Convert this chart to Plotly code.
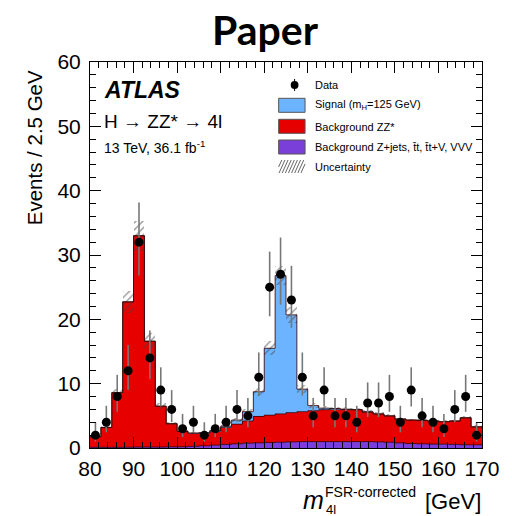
import plotly.graph_objects as go
import math

# ---------------- data ----------------
bin_edges = [80 + 2.5 * i for i in range(37)]
bin_centers = [80 + 2.5 * i + 1.25 for i in range(36)]

data_counts = [2, 4, 8, 12, 32, 14, 9, 6, 3, 4,
               2, 3, 4, 6, 5, 11, 25, 27, 23, 11,
               5, 9, 5, 5, 4, 7, 7, 8, 4, 9,
               5, 4, 3, 6, 8, 2]

bkg_other = [0.1, 0.1, 0.1, 0.12, 0.15, 0.15, 0.15, 0.18, 0.2, 0.25,
             0.35, 0.45, 0.55, 0.65, 0.75, 0.8, 0.85, 0.9, 0.95, 1.0,
             1.0, 1.0, 1.0, 1.0, 1.0, 1.0, 0.95, 0.9, 0.8, 0.7,
             0.65, 0.6, 0.6, 0.55, 0.5, 0.5]

bkg_zz = [1.65, 3.1, 8.5, 22.6, 32.85, 16.45, 6.35, 3.6, 2.4, 2.05,
          1.95, 2.15, 2.65, 3.05, 3.45, 4.1, 4.25, 4.4, 4.55, 4.65,
          4.8, 4.95, 5.05, 5.0, 4.95, 4.6, 4.35, 4.1, 3.7, 3.65,
          3.65, 3.6, 3.5, 3.65, 4.2, 2.8]

signal = [0, 0, 0, 0, 0, 0, 0, 0, 0, 0.02,
          0.05, 0.1, 0.2, 0.65, 1.45, 3.85, 10.4, 21.5, 15.2, 3.5,
          0.8, 0.25, 0.08, 0.03, 0.02, 0.01, 0, 0, 0, 0,
          0, 0, 0, 0, 0, 0]

uncertainty = [0.12, 0.2, 0.5, 1.7, 2.3, 1.3, 0.45, 0.25, 0.18, 0.15,
               0.15, 0.17, 0.2, 0.25, 0.35, 0.6, 1.1, 1.5, 1.2, 0.6,
               0.35, 0.3, 0.3, 0.3, 0.3, 0.28, 0.27, 0.25, 0.23, 0.22,
               0.22, 0.21, 0.21, 0.21, 0.24, 0.2]

x_ticks = [80, 90, 100, 110, 120, 130, 140, 150, 160, 170]
y_ticks = [0, 10, 20, 30, 40, 50, 60]

# ---------------- derived ----------------
cum_other = bkg_other
cum_zz = [a + b for a, b in zip(bkg_other, bkg_zz)]
cum_tot = [a + b for a, b in zip(cum_zz, signal)]
err_up = [math.sqrt(n + 0.25) + 0.5 for n in data_counts]
err_dn = [math.sqrt(n + 0.25) - 0.5 for n in data_counts]

C_SIG = "#6cb4ff"
C_ZZ = "#e60000"
C_OTH = "#7a3fd8"
FONT = "Liberation Sans, Arial, Helvetica, sans-serif"

W, H = 512, 516
L, R, T, B = 90, 491, 62, 448


def xp(x):
    return (x - L) / (R - L)


def yp(y):
    return (B - y) / (B - T)


fig = go.Figure()

fig.add_trace(go.Bar(x=bin_centers, y=bkg_other, base=[0] * 36, width=2.5,
                     marker=dict(color=C_OTH, line=dict(width=0)), showlegend=False))
fig.add_trace(go.Bar(x=bin_centers, y=bkg_zz, base=cum_other, width=2.5,
                     marker=dict(color=C_ZZ, line=dict(width=0)), showlegend=False))
fig.add_trace(go.Bar(x=bin_centers, y=signal, base=cum_zz, width=2.5,
                     marker=dict(color=C_SIG, line=dict(width=0)), showlegend=False))

# outlines of the stacked histograms
for cum in (cum_other, cum_zz, cum_tot):
    fig.add_trace(go.Scatter(x=bin_edges, y=cum + [cum[-1]], mode="lines",
                             line=dict(shape="hv", color="#3a0000", width=0.8),
                             hoverinfo="skip", showlegend=False))

# uncertainty hatch
fig.add_trace(go.Bar(x=bin_centers, y=[2 * u for u in uncertainty],
                     base=[t - u for t, u in zip(cum_tot, uncertainty)], width=2.5,
                     marker=dict(color="rgba(0,0,0,0)", line=dict(width=0),
                                 pattern=dict(shape="/", fgcolor="#444",
                                              bgcolor="rgba(0,0,0,0)",
                                              size=5, solidity=0.3)),
                     showlegend=False))

# data
fig.add_trace(go.Scatter(x=bin_centers, y=data_counts, mode="markers",
                         marker=dict(color="black", size=9),
                         error_y=dict(type="data", symmetric=False, array=err_up,
                                      arrayminus=err_dn, color="#777",
                                      thickness=1.6, width=0),
                         showlegend=False))

axis_common = dict(showline=True, linecolor="black", linewidth=1, mirror="ticks",
                   ticks="inside", ticklen=11, tickcolor="black", tickwidth=1,
                   showgrid=False, zeroline=False,
                   tickfont=dict(family=FONT, size=21, color="black"))

fig.update_layout(
    width=W, height=H,
    margin=dict(l=L, r=W - R, t=T, b=H - B),
    paper_bgcolor="white", plot_bgcolor="white",
    barmode="overlay", bargap=0,
    xaxis=dict(range=[80, 170], tickvals=x_ticks, ticktext=[str(v) for v in x_ticks],
               minor=dict(dtick=2, tick0=80, ticks="inside", ticklen=6,
                          tickcolor="black", showgrid=False),
               ticklabelstandoff=2, **axis_common),
    yaxis=dict(range=[0, 60], tickvals=y_ticks, ticktext=[str(v) for v in y_ticks],
               minor=dict(dtick=2, tick0=0, ticks="inside", ticklen=6,
                          tickcolor="black", showgrid=False),
               ticklabelstandoff=4, **axis_common),
)

ann = []


def text(x, y, s, size, xanchor="left", yanchor="middle", **kw):
    ann.append(dict(x=xp(x), y=yp(y), xref="paper", yref="paper", text=s,
                    showarrow=False, xanchor=xanchor, yanchor=yanchor,
                    font=dict(family=kw.pop("family", FONT), size=size,
                              color="black"), **kw))


# title
text(270, 30, "<b>Paper</b>", 41, xanchor="center", family="Lato, Carlito, sans-serif")
# y-axis title
text(33, 148, "Events / 2.5 GeV", 20.5, xanchor="center", textangle=-90)
# x-axis title
text(331, 500, "<i>m</i>", 25, xanchor="right")
text(328, 492, "FSR-corrected", 14)
text(329, 509, "4l", 13)
text(492, 501, "[GeV]", 22, xanchor="right")

# ATLAS labels
text(102, 90, "<b><i>ATLAS</i></b>", 23)
text(102, 121, "H \u2192 ZZ* \u2192 4l", 19)
text(102, 147, "13 TeV, 36.1 fb<sup>-1</sup>", 14)

# legend text
lx = 318
text(lx, 85, "Data", 11)
text(lx, 105, "Signal (m<sub>H</sub>=125 GeV)", 11)
text(lx, 126.5, "Background ZZ*", 11)
text(lx, 147.3, "Background Z+jets, t\u0304t, t\u0304t+V, VVV", 11)
text(lx, 167, "Uncertainty", 11)

fig.update_layout(annotations=ann)

shapes = []


def rect(x0, y0, x1, y1, fill, line="#555"):
    shapes.append(dict(type="rect", xref="paper", yref="paper",
                       x0=xp(x0), x1=xp(x1), y0=yp(y1), y1=yp(y0),
                       fillcolor=fill, line=dict(color=line, width=1)))


# data marker in legend
shapes.append(dict(type="line", xref="paper", yref="paper", x0=xp(299.3), x1=xp(299.3),
                   y0=yp(79), y1=yp(91), line=dict(color="black", width=1)))
shapes.append(dict(type="circle", xref="paper", yref="paper", x0=xp(295.3), x1=xp(303.3),
                   y0=yp(89), y1=yp(81), fillcolor="black", line=dict(color="black", width=0)))
rect(283, 98.3, 310, 112.3, C_SIG)
rect(283, 119.3, 310, 133.3, C_ZZ)
rect(283, 140, 310, 154, C_OTH)
# hatch box for uncertainty
for k in range(10):
    x0 = 283 + k * 3.2 - 6
    shapes.append(dict(type="line", xref="paper", yref="paper",
                       x0=xp(max(x0, 283)), y0=yp(173 - (max(x0, 283) - x0) * 13 / 6),
                       x1=xp(min(x0 + 6, 310)), y1=yp(173 - (min(x0 + 6, 310) - x0) * 13 / 6),
                       line=dict(color="#666", width=1)))
fig.update_layout(shapes=shapes)

fig.write_html("out.html")
